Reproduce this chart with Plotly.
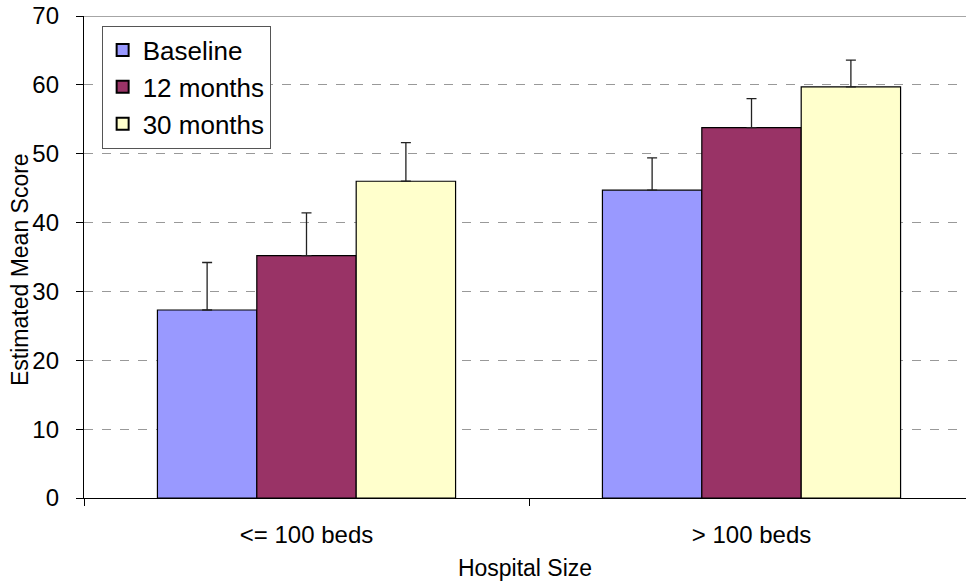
import plotly.graph_objects as go

categories = ["<= 100 beds", "> 100 beds"]
series_names = ["Baseline", "12 months", "30 months"]
baseline = [27.3, 44.7]
baseline_err = [6.9, 4.7]
m12 = [35.2, 53.8]
m12_err = [6.2, 4.2]
m30 = [46.0, 59.7]
m30_err = [5.6, 3.9]
colors = ["#9999FF", "#993366", "#FFFFCC"]

values = [baseline, m12, m30]
errors = [baseline_err, m12_err, m30_err]

fig = go.Figure()
for name, vals, errs, col in zip(series_names, values, errors, colors):
    fig.add_trace(go.Bar(
        x=categories, y=vals, name=name,
        marker=dict(color=col, line=dict(color="#000000", width=1.2)),
        error_y=dict(type="data", symmetric=False, array=errs,
                     arrayminus=[0] * len(errs), color="#222222",
                     thickness=1.3, width=5),
    ))

font_family = "Liberation Sans, Arial, sans-serif"
fig.update_layout(
    width=968, height=584,
    margin=dict(l=84, r=2, t=16, b=86, autoexpand=False),
    paper_bgcolor="white", plot_bgcolor="white",
    barmode="group", bargap=0.33, bargroupgap=0,
    font=dict(family=font_family, size=24, color="#000000"),
    showlegend=True,
    legend=dict(x=0.02, y=0.98, xanchor="left", yanchor="top",
                bgcolor="white", bordercolor="#555555", borderwidth=1,
                font=dict(size=26, family=font_family),
                itemsizing="constant", tracegroupgap=0),
    xaxis=dict(range=[-0.5, 1.482], tickson="boundaries", ticks="outside",
               ticklen=7, tickcolor="#000000", showline=True,
               linecolor="#000000", linewidth=1.3, showgrid=False,
               automargin=False, ticklabelstandoff=15,
               title=dict(text="Hospital Size", standoff=12,
                          font=dict(size=23))),
    yaxis=dict(range=[0, 70], dtick=10, ticks="outside", ticklen=7,
               tickcolor="#000000", showline=True, linecolor="#000000",
               linewidth=1.3, showgrid=True, gridcolor="#999999",
               griddash="dash", gridwidth=1, zeroline=False,
               automargin=False, ticklabelstandoff=12,
               ticklabeloverflow="allow"),
)
fig.add_annotation(text="Estimated Mean Score", xref="paper", yref="paper",
                   x=-0.0726, y=0.475, xanchor="center", yanchor="middle",
                   textangle=-90, showarrow=False,
                   font=dict(size=23, family=font_family, color="#000000"))
fig.add_shape(type="line", xref="paper", yref="y", x0=0, x1=1, y0=70, y1=70,
              line=dict(color="#888888", width=1.5))

fig.write_html("out.html", config={"displayModeBar": False},
               post_script="document.body.style.margin='0px';")
